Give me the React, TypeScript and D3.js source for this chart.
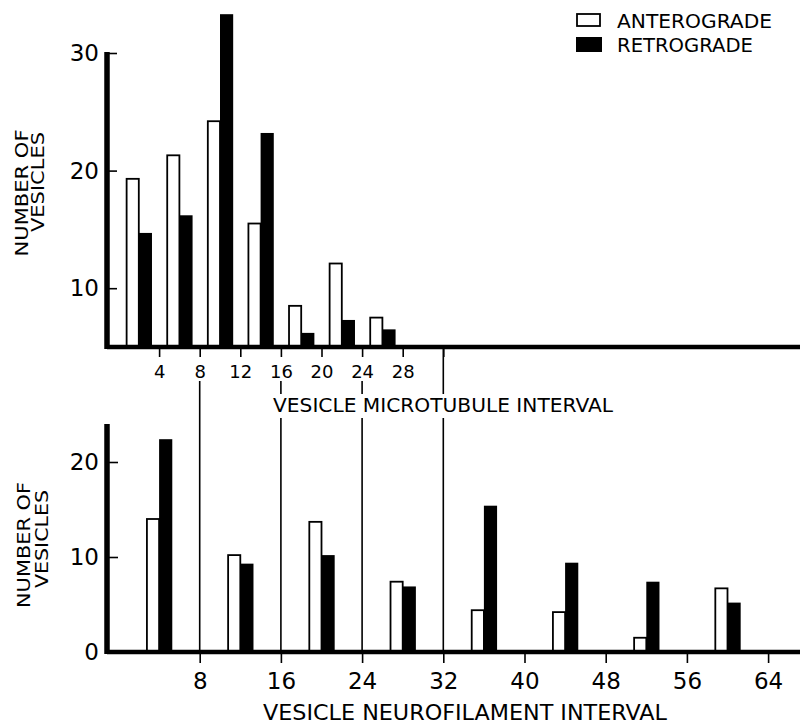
import * as d3 from "d3";
import { useEffect, useRef } from "react";

// top panel: vesicle-microtubule interval, bins of 4 (bin centres)
const topBins = [2, 6, 10, 14, 18, 22, 26];
const topAntero = [19.3, 21.3, 24.2, 15.5, 8.5, 12.1, 7.5];
const topRetro = [14.7, 16.2, 33.3, 23.2, 6.2, 7.3, 6.5];
const topXTicks = [4, 8, 12, 16, 20, 24, 28, 32];
const topXLabels = ["4", "8", "12", "16", "20", "24", "28", ""];
const topYTicks = [10, 20, 30];

// bottom panel: vesicle-neurofilament interval, bins of 8
const botBins = [4, 12, 20, 28, 36, 44, 52, 60];
const botAntero = [14.0, 10.2, 13.7, 7.4, 4.4, 4.2, 1.5, 6.7];
const botRetro = [22.4, 9.3, 10.2, 6.9, 15.4, 9.4, 7.4, 5.2];
const botXTicks = [8, 16, 24, 32, 40, 48, 56, 64];
const botYTicks = [0, 10, 20];

// interval values whose tick lines join the two panels
const linkTicks = [8, 16, 24, 32];

const FONT = "'DejaVu Sans', sans-serif";

const App = () => {
    const ref = useRef(null);

    useEffect(() => {
        const svg = d3.select(ref.current);
        svg.selectAll("*").remove();

        const x = d3.scaleLinear().domain([0, 64]).range([118.5, 118.5 + 64 * 10.15]);
        const yTop = d3.scaleLinear().domain([5, 30]).range([347, 53]);
        const yBot = d3.scaleLinear().domain([0, 20]).range([652, 462]);
        const bw = 1.2; // bar width in interval units

        const axisX0 = 107;

        // connecting tick lines, with a gap where the top title sits
        linkTicks.forEach((t) => {
            const start = t === 32 ? yTop(5) : 381;
            const segs = t === 8 ? [[start, yBot(0)]] : [[start, 394], [418, yBot(0)]];
            segs.forEach(([a, b]) => {
                svg.append("line")
                    .attr("x1", x(t)).attr("x2", x(t))
                    .attr("y1", a).attr("y2", b)
                    .attr("stroke", "#000").attr("stroke-width", 1.6);
            });
        });

        const drawPanel = (bins, antero, retro, y, base) => {
            const g = svg.append("g");
            g.selectAll(".ante")
                .data(bins.map((b, i) => ({ b, v: antero[i] })))
                .join("rect")
                .attr("x", (d) => x(d.b - bw))
                .attr("y", (d) => y(d.v))
                .attr("width", x(bw) - x(0))
                .attr("height", (d) => y(base) - y(d.v))
                .attr("fill", "#fff")
                .attr("stroke", "#000")
                .attr("stroke-width", 1.8);
            g.selectAll(".retro")
                .data(bins.map((b, i) => ({ b, v: retro[i] })))
                .join("rect")
                .attr("x", (d) => x(d.b))
                .attr("y", (d) => y(d.v))
                .attr("width", x(bw) - x(0) + 1)
                .attr("height", (d) => y(base) - y(d.v))
                .attr("fill", "#000");
        };

        drawPanel(topBins, topAntero, topRetro, yTop, 5);
        drawPanel(botBins, botAntero, botRetro, yBot, 0);

        // top axes
        svg.append("line")
            .attr("x1", axisX0).attr("x2", 800)
            .attr("y1", yTop(5)).attr("y2", yTop(5))
            .attr("stroke", "#000").attr("stroke-width", 4.5);
        svg.append("line")
            .attr("x1", axisX0).attr("x2", axisX0)
            .attr("y1", yTop(30) - 1).attr("y2", yTop(5) + 2)
            .attr("stroke", "#000").attr("stroke-width", 5.5);

        const topX = svg.append("g")
            .attr("transform", "translate(0," + yTop(5) + ")")
            .call(d3.axisBottom(x).tickValues(topXTicks)
                .tickFormat((d, i) => topXLabels[i]).tickSize(10).tickPadding(8));
        topX.select(".domain").remove();
        topX.selectAll("line").attr("stroke-width", 1.6);
        topX.selectAll("text").attr("font-size", 18).attr("font-family", FONT).attr("fill", "#000");

        const topY = svg.append("g")
            .attr("transform", "translate(" + axisX0 + ",0)")
            .call(d3.axisRight(yTop).tickValues(topYTicks).tickSize(10).tickFormat(() => ""));
        topY.select(".domain").remove();
        topY.selectAll("line").attr("stroke-width", 1.6);
        svg.append("g").selectAll("text")
            .data(topYTicks)
            .join("text")
            .attr("x", 99)
            .attr("y", (d) => yTop(d) + 8)
            .attr("text-anchor", "end")
            .attr("font-size", 23)
            .attr("font-family", FONT)
            .text((d) => d);

        // bottom axes
        svg.append("line")
            .attr("x1", axisX0).attr("x2", 800)
            .attr("y1", yBot(0)).attr("y2", yBot(0))
            .attr("stroke", "#000").attr("stroke-width", 4.5);
        svg.append("line")
            .attr("x1", axisX0).attr("x2", axisX0)
            .attr("y1", 424).attr("y2", yBot(0) + 2)
            .attr("stroke", "#000").attr("stroke-width", 5.5);

        const botX = svg.append("g")
            .attr("transform", "translate(0," + yBot(0) + ")")
            .call(d3.axisBottom(x).tickValues(botXTicks).tickSize(11).tickPadding(10));
        botX.select(".domain").remove();
        botX.selectAll("line").attr("stroke-width", 1.6);
        botX.selectAll("text").attr("font-size", 23).attr("font-family", FONT).attr("fill", "#000");

        const botY = svg.append("g")
            .attr("transform", "translate(" + axisX0 + ",0)")
            .call(d3.axisRight(yBot).tickValues(botYTicks.filter((d) => d > 0)).tickSize(11).tickFormat(() => ""));
        botY.select(".domain").remove();
        botY.selectAll("line").attr("stroke-width", 1.6);
        svg.append("g").selectAll("text")
            .data(botYTicks)
            .join("text")
            .attr("x", 99)
            .attr("y", (d) => yBot(d) + 8)
            .attr("text-anchor", "end")
            .attr("font-size", 23)
            .attr("font-family", FONT)
            .text((d) => d);

        // axis titles
        const title = (txt, x0, base, len, size) =>
            svg.append("text")
                .attr("x", x0).attr("y", base)
                .attr("textLength", len).attr("lengthAdjust", "spacingAndGlyphs")
                .attr("font-size", size).attr("font-family", FONT)
                .text(txt);
        title("VESICLE MICROTUBULE INTERVAL", 273, 412, 340, 20);
        title("VESICLE NEUROFILAMENT INTERVAL", 263, 720, 404, 22);

        const yTitle = (txt, bx, cy, len) =>
            svg.append("text")
                .attr("transform", "translate(" + bx + "," + cy + ") rotate(-90)")
                .attr("x", -len / 2).attr("y", 0)
                .attr("textLength", len).attr("lengthAdjust", "spacingAndGlyphs")
                .attr("font-size", 17).attr("font-family", FONT)
                .text(txt);
        yTitle("NUMBER OF", 28, 193, 127);
        yTitle("VESICLES", 44, 182, 100);
        yTitle("NUMBER OF", 30, 545, 126);
        yTitle("VESICLES", 48, 539, 98);

        // legend
        svg.append("rect").attr("x", 577).attr("y", 14).attr("width", 23).attr("height", 12)
            .attr("fill", "#fff").attr("stroke", "#000").attr("stroke-width", 1.8);
        svg.append("rect").attr("x", 576).attr("y", 37).attr("width", 26).attr("height", 15)
            .attr("fill", "#000");
        title("ANTEROGRADE", 617, 28, 155, 20);
        title("RETROGRADE", 617, 52, 136, 20);
    }, []);

    return (
        <svg ref={ref} width={800} height={727}
            style={{ position: "absolute", left: 0, top: 0, background: "#fff" }} />
    );
};

export default App;
